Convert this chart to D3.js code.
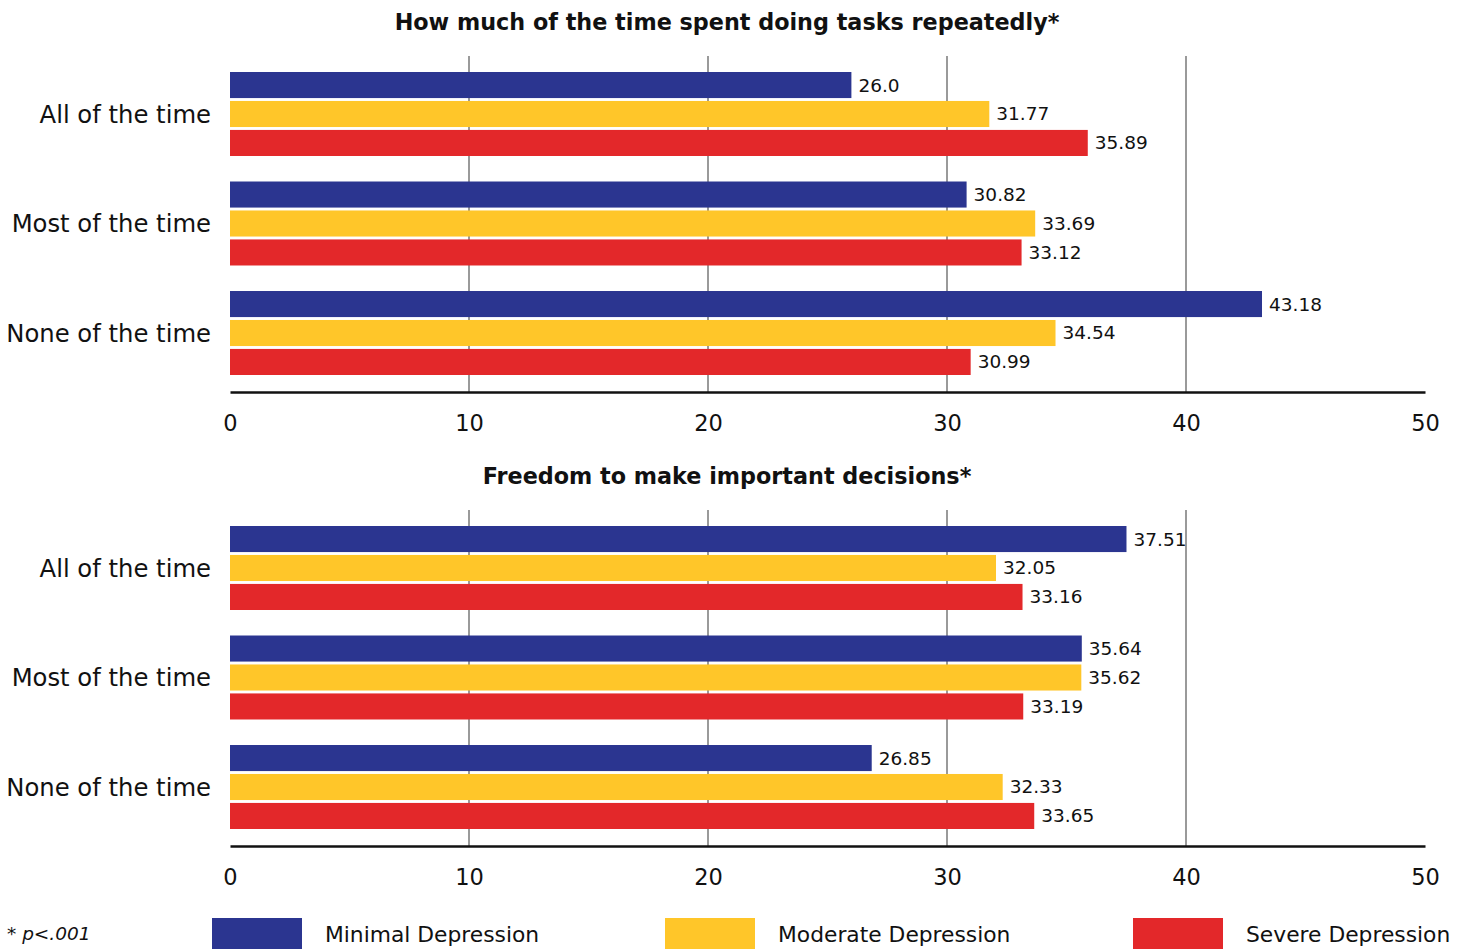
<!DOCTYPE html>
<html>
<head>
<meta charset="utf-8">
<script src="https://cdn.jsdelivr.net/npm/d3@7"></script>
<style>
  body { margin: 0; background: #fff; }
  svg text { font-family: "DejaVu Sans", sans-serif; fill: #111; }
</style>
</head>
<body>
<svg id="chart" width="1460" height="949"></svg>
<script>
// chart data
var categories = ["All of the time", "Most of the time", "None of the time"];
var seriesNames = ["Minimal Depression", "Moderate Depression", "Severe Depression"];
var colors = ["#2B3590", "#FFC629", "#E3282A"];
var ticks = [0, 10, 20, 30, 40, 50];

var titles = ["How much of the time spent doing tasks repeatedly*", "Freedom to make important decisions*"];

// values per category, in series order (kept as printed so "26.0" stays)
var tasksValues = [
  ["26.0", "31.77", "35.89"],
  ["30.82", "33.69", "33.12"],
  ["43.18", "34.54", "30.99"]
];
var freedomValues = [
  ["37.51", "32.05", "33.16"],
  ["35.64", "35.62", "33.19"],
  ["26.85", "32.33", "33.65"]
];

var svg = d3.select("#chart");

var x = d3.scaleLinear().domain([0, 50]).range([230, 1425]);

//draws one of the two panels
function drawPanel(values, title, top)
{
    var g = svg.append("g").attr("transform", "translate(0," + top + ")");

    g.append("text")
        .attr("x", 727)
        .attr("y", 0)
        .attr("dy", "0.35em")
        .attr("text-anchor", "middle")
        .attr("font-weight", "bold")
        .attr("font-size", 22.3)
        .text(title);

    var gridTop = 34, axisY = 370;

    // gridlines
    g.selectAll(".grid")
        .data(ticks.filter(function(t){ return t > 0 && t < 50; }))
        .enter()
        .append("line")
        .attr("x1", function(d){ return x(d); })
        .attr("x2", function(d){ return x(d); })
        .attr("y1", gridTop)
        .attr("y2", axisY)
        .attr("stroke", "#9a9a9a")
        .attr("stroke-width", 2);

    var y0 = d3.scaleBand().domain(categories).range([50, 353]).paddingInner(0.233);
    var y1 = d3.scaleBand().domain(seriesNames).range([0, y0.bandwidth()]).paddingInner(0.1);

    var groups = g.selectAll(".grp")
        .data(categories)
        .enter()
        .append("g")
        .attr("transform", function(d){ return "translate(0," + y0(d) + ")"; });

    groups.append("text")
        .attr("x", 211)
        .attr("y", y0.bandwidth() / 2)
        .attr("dy", "0.35em")
        .attr("text-anchor", "end")
        .attr("font-size", 24.3)
        .text(function(d){ return d; });

    var bars = groups.selectAll(".bar")
        .data(function(d, i){
            return values[i].map(function(v, j){ return {series: seriesNames[j], value: +v, label: v, color: colors[j]}; });
        })
        .enter();

    bars.append("rect")
        .attr("x", x(0))
        .attr("y", function(d){ return y1(d.series); })
        .attr("width", function(d){ return x(d.value) - x(0); })
        .attr("height", y1.bandwidth())
        .attr("fill", function(d){ return d.color; });

    bars.append("text")
        .attr("x", function(d){ return x(d.value) + 7; })
        .attr("y", function(d){ return y1(d.series) + y1.bandwidth() / 2; })
        .attr("dy", "0.35em")
        .attr("font-size", 18.5)
        .text(function(d){ return d.label; });

    // axis
    var axis = g.append("g")
        .attr("transform", "translate(0," + axisY + ")")
        .call(d3.axisBottom(x).tickValues(ticks).tickSize(0).tickPadding(23));
    axis.select(".domain").attr("stroke", "#111").attr("stroke-width", 2.5);
    axis.selectAll("text")
        .attr("font-family", "DejaVu Sans, sans-serif")
        .attr("font-size", 22.5)
        .attr("fill", "#111");
}

drawPanel(tasksValues, titles[0], 22);
drawPanel(freedomValues, titles[1], 476);

// legend
var legend = svg.append("g");
legend.append("text")
    .attr("x", 7)
    .attr("y", 934)
    .attr("dy", "0.35em")
    .attr("font-style", "italic")
    .attr("font-size", 18.5)
    .text("* p<.001");

var legendX = [212, 665, 1133];
var items = legend.selectAll(".item")
    .data(seriesNames)
    .enter()
    .append("g")
    .attr("transform", function(d, i){ return "translate(" + legendX[i] + ",918)"; });
items.append("rect")
    .attr("width", 90)
    .attr("height", 34)
    .attr("fill", function(d, i){ return colors[i]; });
items.append("text")
    .attr("x", 113)
    .attr("y", 16)
    .attr("dy", "0.35em")
    .attr("font-size", 21.8)
    .text(function(d){ return d; });
</script>
</body>
</html>
